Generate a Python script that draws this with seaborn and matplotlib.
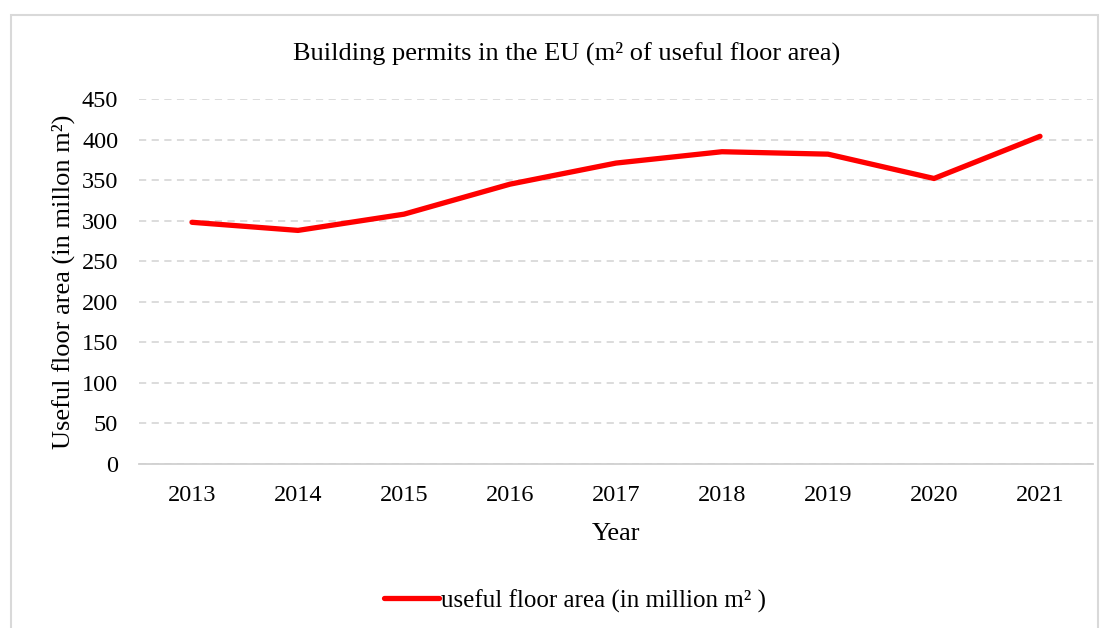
import pandas as pd
import matplotlib.pyplot as plt
import matplotlib.patches as mpatches
import seaborn as sns

years = [2013, 2014, 2015, 2016, 2017, 2018, 2019, 2020, 2021]
floor_area = [298, 288, 308, 345, 371, 385, 382, 352, 404]
yticks = [0, 50, 100, 150, 200, 250, 300, 350, 400, 450]

df = pd.DataFrame({'Year': years, 'Area': floor_area})

sns.set_style('white')
plt.rcParams['font.family'] = ['Liberation Serif', 'DejaVu Serif']
plt.rcParams['text.color'] = 'black'
plt.rcParams['axes.labelcolor'] = 'black'
plt.rcParams['xtick.color'] = 'black'
plt.rcParams['ytick.color'] = 'black'

fig = plt.figure(figsize=(11.1, 6.28), dpi=100)
ax = fig.add_axes([139/1110, 1 - 464/628, (1093-139)/1110, (464-99)/628])

sns.lineplot(x='Year', y='Area', data=df, ax=ax, color='#ff0000', linewidth=3.8,
             solid_capstyle='round', label='useful floor area (in million m² )')

ax.set_xlim(2012.5, 2021.5)
ax.set_ylim(0, 450)
ax.set_xticks(years)
ax.set_yticks(yticks)
ax.yaxis.grid(True, color='#d9d9d9', linestyle=(0, (4, 3)), linewidth=1.3)
ax.set_axisbelow(True)
for s in ['top', 'right', 'left']:
    ax.spines[s].set_visible(False)
ax.spines['bottom'].set_color('#d0d0d0')
ax.spines['bottom'].set_linewidth(1.3)
ax.tick_params(axis='x', direction='in', length=5, color='#d0d0d0', labelcolor='black',
               labelsize=17.5, pad=15)
ax.tick_params(axis='y', length=0, labelsize=17.5, pad=15)

ax.set_xlabel('Year', fontsize=19, labelpad=12)
ax.set_ylabel('Useful floor area (in millon m²)', fontsize=19, labelpad=5)
fig.text(567/1110, 1 - 53/628, 'Building permits in the EU (m² of useful floor area)',
         ha='center', va='center', fontsize=19)

ax.legend(loc='center', bbox_to_anchor=(0.457, -0.375), frameon=False, fontsize=18,
          handlelength=2.2, handletextpad=0.1)

fig.patches.append(mpatches.Rectangle((11/1110, -0.1), (1098-11)/1110, 1 - 15/628 + 0.1,
                                      transform=fig.transFigure, fill=False,
                                      edgecolor='#d9d9d9', linewidth=1.5))

plt.savefig('out.png', dpi=100)
